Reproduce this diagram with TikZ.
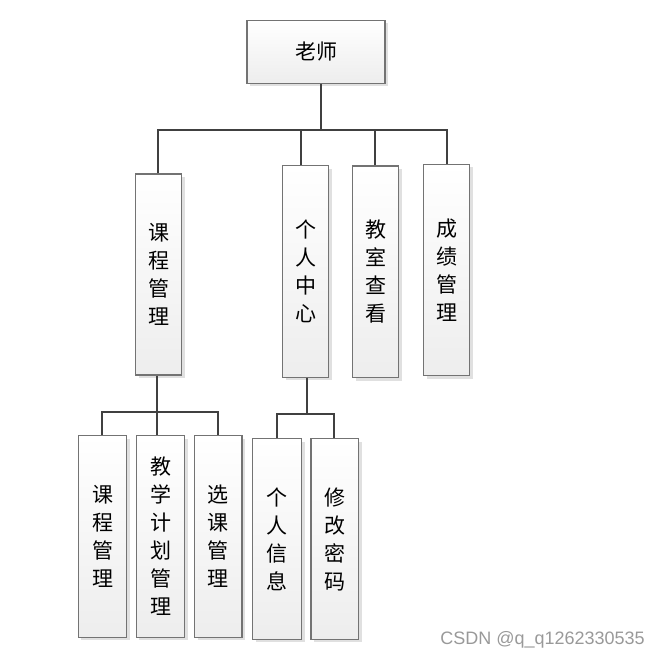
\documentclass[tikz,border=0pt]{standalone}
\usepackage{fontspec}
\setmainfont{Liberation Sans}
\newfontfamily\cjk{Noto Sans CJK SC}
\usetikzlibrary{shadows}
\begin{document}
\begin{tikzpicture}[
    x=1pt, y=-1pt,
    box/.style={draw=black!55, line width=1.4pt, top color=white, bottom color=black!7,
      inner sep=0pt, align=center, font=\cjk\fontsize{21}{28}\selectfont,
      drop shadow={shadow xshift=3pt, shadow yshift=-3pt, fill=black!12, opacity=1}},
    tall/.style={box, minimum width=46pt, minimum height=#1},
    link/.style={draw=black!75, line width=1.8pt}
  ]
  \useasboundingbox (0,0) rectangle (660,660);
  \node[box, minimum width=138pt, minimum height=63pt] (teacher) at (316,51.8) {老师};
  \node[tall=201pt] (course) at (158.7,274.5) {课\\程\\管\\理};
  \node[tall=211.6pt] (center) at (305.7,271.5) {个\\人\\中\\心};
  \node[tall=211.7pt] (room) at (375.7,271.8) {教\\室\\查\\看};
  \node[tall=211.4pt] (grade) at (446.5,270) {成\\绩\\管\\理};
  \node[tall=201.6pt, minimum width=48.4pt] (cmanage) at (102.5,536.5) {课\\程\\管\\理};
  \node[tall=201.6pt, minimum width=48.4pt] (plan) at (160.5,536.5) {教\\学\\计\\划\\管\\理};
  \node[tall=201.6pt, minimum width=47.3pt] (select) at (218.4,536.5) {选\\课\\管\\理};
  \node[tall=200.6pt, minimum width=49pt] (info) at (277.2,539) {个\\人\\信\\息};
  \node[tall=200.6pt, minimum width=47.7pt] (pwd) at (334.9,539) {修\\改\\密\\码};
  \coordinate (bus0) at (321,130);
  \coordinate (bus1) at (157.3,411.7);
  \coordinate (bus2) at (307.3,414);
  \draw[link] (teacher.south -| bus0) -- (bus0);
  \draw[link] (course.north -| 158.3,0) |- (bus0) -| (grade.north -| 446.7,0);
  \draw[link] (center.north -| 300.7,0) -- (300.7,130);
  \draw[link] (room.north -| 375.3,0) -- (375.3,130);
  \draw[link] (course.south -| bus1) -- (plan.north -| bus1);
  \draw[link] (cmanage.north -| 102.3,0) |- (bus1) -| (select.north -| 217.7,0);
  \draw[link] (center.south -| bus2) -- (bus2);
  \draw[link] (info.north -| 276.7,0) |- (bus2) -| (pwd.north -| 334.3,0);
  \node[text=black!40, font=\fontsize{18}{20}\selectfont, anchor=east, inner sep=0pt] (mark) at (645,640) {CSDN @q\_q1262330535};
\end{tikzpicture}
\end{document}
